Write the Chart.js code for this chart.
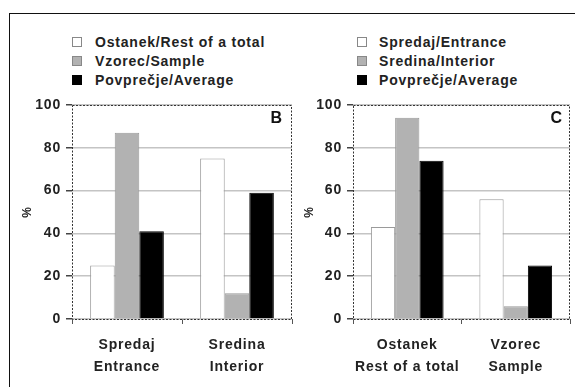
<!DOCTYPE html>
<html>
<head>
<meta charset="utf-8">
<script src="https://cdn.jsdelivr.net/npm/chart.js@4"></script>
<style>
    html, body { margin: 0; padding: 0; background: #fff; overflow: hidden; }
    body { width: 575px; height: 387px; position: relative; font-family: "Liberation Sans", Arial, sans-serif; }
    #frame { position: absolute; left: 9px; top: 13px; width: 700px; height: 500px; border: 1.5px solid #111; }
    canvas { position: absolute; top: 0; }
    #chartB { left: 0; }
    #chartC { left: 300px; }
    .legend { position: absolute; top: 33px; }
    .legend div { position: relative; height: 19px; line-height: 19px; font-size: 14px; font-weight: bold; letter-spacing: 0.8px; color: #222; white-space: nowrap; }
    .legend span { position: absolute; left: 0; top: 4px; width: 10px; height: 10px; border: 1px solid #888; box-sizing: border-box; }
</style>
</head>
<body>
<div id="frame"></div>
<div class="legend" id="legendB" style="left:72px"></div>
<div class="legend" id="legendC" style="left:357px"></div>
<canvas id="chartB" width="300" height="387"></canvas>
<canvas id="chartC" width="275" height="387"></canvas>
<script>
const yTicks = [0, 20, 40, 60, 80, 100];

const categoriesB = [['Spredaj', 'Entrance'], ['Sredina', 'Interior']];
const seriesB = ['Ostanek/Rest of a total', 'Vzorec/Sample', 'Povprečje/Average'];
const restB = [25, 75];
const sampleB = [87, 12];
const averageB = [41, 59];

const categoriesC = [['Ostanek', 'Rest of a total'], ['Vzorec', 'Sample']];
const seriesC = ['Spredaj/Entrance', 'Sredina/Interior', 'Povprečje/Average'];
const entranceC = [43, 56];
const interiorC = [94, 6];
const averageC = [74, 25];

const fills = ['#ffffff', '#b2b2b2', '#000000'];
const borders = ['#9a9a9a', '#999999', '#000000'];
const fontFamily = '"Liberation Sans", Arial, sans-serif';

function buildLegend(id, labels) {
    const box = document.getElementById(id);
    labels.forEach((label, i) => {
        const row = document.createElement('div');
        row.style.paddingLeft = (id === 'legendB' ? 23 : 22) + 'px';
        const sw = document.createElement('span');
        sw.style.background = fills[i];
        if (i == 2) sw.style.borderColor = fills[i];
        row.appendChild(sw);
        row.appendChild(document.createTextNode(label));
        box.appendChild(row);
    });
}

const framePlugin = {
    id: 'framePlugin',
    beforeDraw(chart) {
        chart.ctx.letterSpacing = '0.8px';
    },
    afterDraw(chart, args, opts) {
        const {ctx, chartArea} = chart;
        ctx.save();
        ctx.strokeStyle = '#333';
        ctx.lineWidth = 1;
        ctx.setLineDash([2, 1.5]);
        ctx.strokeRect(chartArea.left + 0.5, chartArea.top + 0.5,
            chartArea.right - chartArea.left - 1, chartArea.bottom - chartArea.top);
        ctx.setLineDash([]);
        ctx.fillStyle = '#111';
        ctx.font = 'bold 16px ' + fontFamily;
        ctx.letterSpacing = '0px';
        ctx.textAlign = 'right';
        ctx.textBaseline = 'middle';
        ctx.fillText(opts.panel, chartArea.right - opts.inset, chartArea.top + 14);
        ctx.restore();
    }
};

function makeChart(id, categories, labels, values, axisWidth, titlePad, padRight, panel, inset) {
    new Chart(document.getElementById(id), {
        type: 'bar',
        data: {
            labels: categories,
            datasets: labels.map((label, i) => ({
                label: label,
                data: values[i],
                backgroundColor: fills[i],
                borderColor: borders[i],
                borderWidth: 1,
                categoryPercentage: 0.67,
                barPercentage: 1.0
            }))
        },
        options: {
            responsive: false,
            animation: false,
            layout: { padding: { top: 105, right: padRight, left: 0, bottom: 0 } },
            plugins: {
                legend: { display: false },
                tooltip: { enabled: false },
                framePlugin: { panel: panel, inset: inset }
            },
            scales: {
                x: {
                    afterFit: scale => { scale.height = 68; },
                    grid: { drawOnChartArea: false, tickLength: 5, color: '#555' },
                    border: { display: false },
                    ticks: {
                        color: '#222',
                        padding: 10,
                        maxRotation: 0,
                        font: { family: fontFamily, size: 14, weight: 'bold', lineHeight: 1.6 }
                    }
                },
                y: {
                    min: 0,
                    max: 100,
                    afterFit: scale => { scale.width = axisWidth; },
                    afterBuildTicks: scale => { scale.ticks = yTicks.map(v => ({ value: v })); },
                    grid: { color: '#c4c4c4', lineWidth: 1.5, tickLength: 6, tickColor: '#444' },
                    border: { display: false },
                    ticks: {
                        color: '#222',
                        padding: 5,
                        font: { family: fontFamily, size: 14, weight: 'bold' }
                    },
                    title: {
                        display: true,
                        text: '%',
                        color: '#222',
                        padding: { top: titlePad, bottom: 0 },
                        font: { family: fontFamily, size: 12, weight: 'bold' }
                    }
                }
            }
        },
        plugins: [framePlugin]
    });
}

buildLegend('legendB', seriesB);
buildLegend('legendC', seriesC);
makeChart('chartB', categoriesB, seriesB, [restB, sampleB, averageB], 72, 20, 8, 'B', 10);
makeChart('chartC', categoriesC, seriesC, [entranceC, interiorC, averageC], 53, 2, 5, 'C', 8);
</script>
</body>
</html>
